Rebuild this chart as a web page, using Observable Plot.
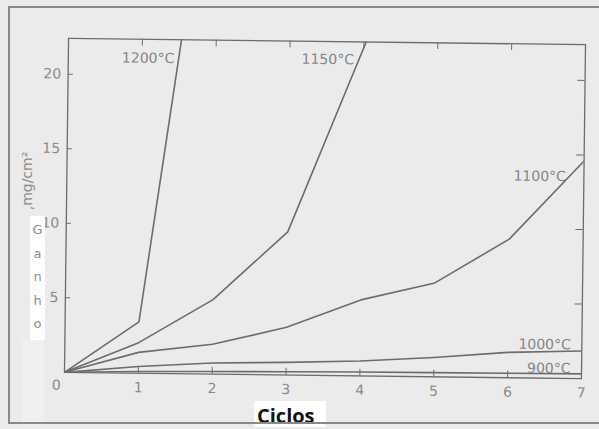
<!DOCTYPE html>
<html>
<head>
<meta charset="utf-8">
<script src="https://cdn.jsdelivr.net/npm/d3@7"></script>
<script src="https://cdn.jsdelivr.net/npm/@observablehq/plot@0.6"></script>
<style>
  html, body { margin: 0; padding: 0; background: #ebebeb; overflow: hidden; }
  #wrap { position: relative; width: 599px; height: 429px; overflow: hidden; background: #ebebeb; }
  #border { position: absolute; left: 8px; top: 6px; width: 591px; height: 418px; border: 2px solid #8a8a8a; border-right: none; box-sizing: border-box; }
  #chart { position: absolute; left: 0; top: 0; transform: rotate(0.7deg); transform-origin: 325px 208px; }
  .ganho { position: absolute; left: 30px; top: 216px; width: 15px; height: 124px; background: #ffffff;
           font-family: "DejaVu Sans", sans-serif; font-size: 13px; color: #8c8c8c; text-align: center; line-height: 23.5px; padding-top: 2px; box-sizing: border-box; }
  .smudge { position: absolute; left: 22px; top: 340px; width: 22px; height: 85px; background: #f1f1f1; opacity: 0.8; }
  .units { position: absolute; left: 27px; top: 181px; transform: translate(-50%, -50%) rotate(-90deg);
           font-family: "DejaVu Sans", sans-serif; font-size: 14px; color: #8a8a8a; white-space: nowrap; }
  .ciclos { position: absolute; left: 254px; top: 401px; width: 72px; height: 26px; background: #ffffff;
            font-family: "Open Sans", "DejaVu Sans", sans-serif; font-weight: bold; font-size: 20px; color: #111; padding-left: 3px; box-sizing: border-box; line-height: 30px; }
</style>
</head>
<body>
<div id="wrap">
  <div id="chart"></div>
  <div class="smudge"></div>
  <div class="ganho">G<br>a<br>n<br>h<br>o</div>
  <div class="units">,mg/cm²</div>
  <div class="ciclos">Ciclos</div>
  <div id="border"></div>
</div>
<script>
// Cycles (x) and mass gain (mg/cm²) per temperature
const cycles = [0, 1, 2, 3, 4, 5, 6, 7];
const gain900  = [0, 0.12, 0.18, 0.22, 0.26, 0.28, 0.3, 0.32];
const gain1000 = [0, 0.45, 0.75, 0.85, 1.0, 1.3, 1.7, 1.85];
const gain1100 = [0, 1.4, 2.0, 3.2, 5.1, 6.3, 9.3, 14.6];
const cycles1150 = [0, 1, 2, 3, 4.03];
const gain1150   = [0, 2.05, 5.0, 9.6, 22.4];
const cycles1200 = [0, 1, 1.53];
const gain1200   = [0, 3.45, 22.4];
const seriesNames = ["900°C", "1000°C", "1100°C", "1150°C", "1200°C"];
const xTicks = [1, 2, 3, 4, 5, 6, 7];
const yTicks = [5, 10, 15, 20];

const rows = [];
const add = (name, xs, ys) => xs.forEach((x, i) => rows.push({serie: name, x, y: ys[i]}));
add(seriesNames[0], cycles, gain900);
add(seriesNames[1], cycles, gain1000);
add(seriesNames[2], cycles, gain1100);
add(seriesNames[3], cycles1150, gain1150);
add(seriesNames[4], cycles1200, gain1200);

const lastOf = name => rows.filter(d => d.serie === name).slice(-1);
const ink = "#6c6c6c";
const tickInk = "#8a8a8a";
const font = "DejaVu Sans, sans-serif";

const labelMark = (name, dx, dy) => Plot.text(lastOf(name), {
  x: "x", y: "y", text: "serie", dx, dy, textAnchor: "end",
  fill: "#858585", fontSize: 14, fontFamily: font
});

const chart = Plot.plot({
  width: 599,
  height: 429,
  marginLeft: 66,
  marginRight: 16,
  marginTop: 41,
  marginBottom: 54,
  style: { background: "transparent", fontFamily: font },
  x: { domain: [0, 7] },
  y: { domain: [0, 22.4] },
  marks: [
    Plot.frame({ stroke: ink, strokeWidth: 1.3 }),
    // inward ticks on all four sides
    Plot.ruleX(xTicks.slice(0, 6), { y1: 0, y2: 0.45, stroke: ink }),
    Plot.ruleX(xTicks.slice(0, 6), { y1: 22.4, y2: 21.95, stroke: ink }),
    Plot.ruleY(yTicks, { x1: 0, x2: 0.07, stroke: ink }),
    Plot.ruleY(yTicks, { x1: 7, x2: 6.9, stroke: ink }),
    Plot.axisX(xTicks, { tickSize: 0, tickPadding: 9, fontSize: 14, fill: tickInk, label: null }),
    Plot.axisY(yTicks, { tickSize: 0, tickPadding: 7, fontSize: 14, fill: tickInk, label: null }),
    Plot.text([0], { x: 0, y: 0, text: d => String(d), dx: -8, dy: 13, fontSize: 14, fill: tickInk, fontFamily: font }),
    Plot.line(rows, { x: "x", y: "y", z: "serie", stroke: ink, strokeWidth: 1.6, clip: true }),
    labelMark("1200°C", -7, 19),
    labelMark("1150°C", -12, 18),
    labelMark("1100°C", -18, 16),
    labelMark("1000°C", -11, -6),
    labelMark("900°C", -11, -5)
  ]
});
document.getElementById("chart").appendChild(chart);
</script>
</body>
</html>
